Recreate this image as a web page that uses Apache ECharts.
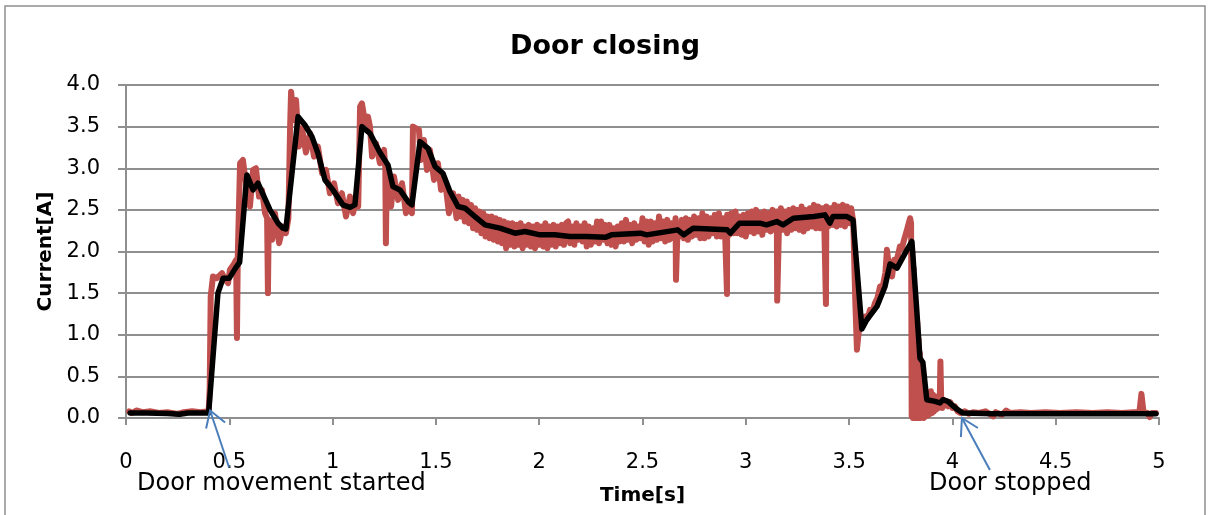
<!DOCTYPE html>
<html><head><meta charset="utf-8">
<script src="https://cdn.jsdelivr.net/npm/echarts@6/dist/echarts.min.js"></script>
<style>html,body{margin:0;padding:0;background:#fff}#c{width:1210px;height:515px}</style>
</head><body><div id="c"></div>
<script>
// ---- data ----
const chartTitle = 'Door closing';
const xName = 'Time[s]';
const yName = 'Current[A]';
const xTickValues = [0, 0.5, 1, 1.5, 2, 2.5, 3, 3.5, 4, 4.5, 5];
const yTickValues = [0.0, 0.5, 1.0, 1.5, 2.0, 2.5, 3.0, 3.5, 4.0];

// raw measured current [time s, current A] (red)
const rawSamples = [
[0.015,0.08],[0.03,0.06],[0.05,0.09],[0.08,0.07],[0.12,0.08],[0.16,0.06],[0.2,0.07],[0.25,0.05],[0.28,0.07],[0.32,0.08],[0.36,0.07],[0.40,0.08],
[0.405,0.35],[0.41,1.46],[0.421,1.70],[0.44,1.68],[0.465,1.74],[0.48,1.66],[0.494,1.62],[0.503,1.78],[0.52,1.84],[0.533,1.90],[0.537,0.96],[0.541,1.95],[0.552,3.06],[0.566,3.10],[0.576,2.90],[0.586,2.74],[0.600,2.54],[0.615,2.98],[0.629,3.00],[0.644,2.66],[0.658,2.74],[0.673,2.46],[0.683,2.40],[0.687,1.50],[0.691,2.38],[0.707,2.14],[0.721,2.46],[0.741,2.10],[0.760,2.30],[0.774,2.22],[0.786,2.40],[0.794,3.46],[0.799,3.92],[0.813,3.58],[0.823,3.82],[0.837,3.26],[0.852,3.48],[0.871,3.19],[0.891,3.42],[0.910,3.14],[0.929,3.26],[0.949,2.94],[0.968,2.98],[0.987,2.70],[1.007,2.82],[1.026,2.58],[1.045,2.70],[1.065,2.42],[1.084,2.66],[1.099,2.46],[1.113,2.62],[1.124,2.54],[1.133,3.74],[1.142,3.78],[1.157,3.54],[1.171,3.62],[1.181,3.50],[1.191,3.14],[1.210,3.30],[1.229,3.06],[1.249,3.22],[1.255,3.00],[1.258,2.10],[1.262,2.90],[1.283,2.54],[1.297,2.90],[1.317,2.62],[1.336,2.82],[1.355,2.46],[1.372,2.54],[1.384,2.46],[1.389,3.50],[1.404,3.48],[1.418,3.46],[1.428,3.10],[1.442,3.34],[1.457,2.98],[1.471,3.22],[1.491,2.86],[1.510,3.06],[1.525,2.74],[1.544,2.86],[1.563,2.46],[1.583,2.70],
[1.60,2.40],[1.61,2.66],[1.62,2.42],[1.63,2.62],[1.64,2.36],[1.65,2.60],[1.66,2.34],[1.67,2.56],[1.68,2.28],[1.69,2.52],
[1.70,2.26],[1.71,2.48],[1.72,2.22],[1.73,2.46],[1.74,2.18],[1.75,2.42],[1.76,2.16],[1.77,2.42],[1.78,2.14],[1.79,2.40],
[1.80,2.12],[1.81,2.38],[1.82,2.10],[1.83,2.36],[1.84,2.04],[1.85,2.34],[1.86,2.08],[1.87,2.34],[1.88,2.06],[1.89,2.32],
[1.90,2.08],[1.91,2.34],[1.92,2.04],[1.93,2.30],[1.94,2.08],[1.95,2.32],[1.96,2.06],[1.97,2.30],[1.98,2.04],[1.99,2.32],
[2.00,2.08],[2.01,2.30],[2.02,2.06],[2.03,2.34],[2.04,2.04],[2.05,2.30],[2.06,2.08],[2.07,2.32],[2.08,2.06],[2.09,2.30],
[2.10,2.10],[2.11,2.32],[2.12,2.08],[2.13,2.34],
[2.14,2.36],[2.15,2.10],[2.16,2.30],[2.17,2.08],[2.18,2.34],[2.19,2.14],[2.20,2.30],[2.21,2.12],[2.22,2.34],[2.23,2.06],
[2.24,2.30],[2.25,2.08],[2.26,2.28],[2.27,2.12],[2.28,2.36],[2.29,2.10],[2.30,2.36],[2.31,2.14],[2.32,2.32],[2.33,2.10],
[2.34,2.32],[2.35,2.08],[2.36,2.28],[2.37,2.06],[2.38,2.30],[2.39,2.12],[2.40,2.34],[2.41,2.12],[2.42,2.38],[2.43,2.14],
[2.44,2.32],[2.45,2.10],[2.46,2.34],[2.47,2.14],[2.48,2.30],[2.49,2.16],[2.50,2.40],[2.51,2.12],[2.52,2.36],[2.53,2.08],
[2.54,2.36],[2.55,2.12],[2.56,2.34],[2.57,2.14],[2.58,2.42],[2.59,2.16],[2.60,2.36],[2.61,2.12],[2.62,2.38],[2.63,2.14],
[2.64,2.34],[2.65,2.16],[2.66,2.40],[2.662,1.66],[2.67,2.30],[2.68,2.18],[2.69,2.38],[2.70,2.16],[2.71,2.40],[2.72,2.14],[2.73,2.38],
[2.74,2.18],[2.75,2.42],[2.76,2.20],[2.77,2.40],[2.78,2.16],[2.79,2.46],[2.80,2.16],[2.81,2.42],[2.82,2.18],[2.83,2.40],
[2.84,2.22],[2.85,2.44],[2.86,2.18],[2.87,2.46],[2.88,2.18],[2.89,2.40],[2.90,2.20],[2.909,1.49],[2.91,2.44],[2.92,2.20],[2.93,2.46],
[2.94,2.22],[2.95,2.48],[2.96,2.22],[2.97,2.42],[2.98,2.20],[2.99,2.44],[3.00,2.18],[3.01,2.46],[3.02,2.24],[3.03,2.48],
[3.04,2.22],[3.05,2.50],[3.06,2.24],[3.07,2.46],[3.08,2.20],[3.09,2.48],[3.10,2.26],[3.11,2.46],[3.12,2.24],[3.13,2.50],
[3.14,2.26],[3.15,2.48],[3.152,1.41],[3.16,2.24],[3.17,2.52],[3.18,2.26],[3.19,2.48],[3.20,2.22],[3.21,2.50],[3.22,2.26],[3.23,2.52],[3.24,2.28],[3.25,2.50],
[3.26,2.26],[3.27,2.54],[3.28,2.24],[3.29,2.50],[3.30,2.28],[3.31,2.52],[3.32,2.30],[3.33,2.56],[3.34,2.28],[3.35,2.54],
[3.36,2.28],[3.37,2.52],[3.38,2.30],[3.388,1.37],[3.39,2.54],[3.40,2.30],[3.41,2.52],[3.42,2.32],[3.43,2.56],[3.44,2.30],[3.45,2.54],
[3.46,2.32],[3.47,2.56],[3.48,2.30],[3.49,2.54],[3.50,2.34],[3.51,2.52],[3.52,2.36],
[3.530,1.40],[3.538,0.82],[3.545,1.00],[3.553,1.14],[3.565,1.10],[3.577,1.22],[3.590,1.20],[3.601,1.30],[3.613,1.28],[3.625,1.38],[3.637,1.44],[3.650,1.58],[3.660,1.55],[3.669,1.66],[3.676,1.75],[3.683,2.02],[3.693,1.82],[3.708,1.70],[3.718,1.90],[3.727,1.87],[3.737,1.96],[3.746,2.06],[3.756,2.04],[3.766,2.14],[3.780,2.26],[3.795,2.40],[3.800,2.34],
[3.803,0.02],[3.806,2.00],[3.809,0.00],[3.812,1.80],[3.815,0.02],[3.818,1.55],[3.821,0.00],[3.824,1.35],[3.827,0.02],[3.830,1.15],[3.833,0.00],[3.836,0.95],[3.839,0.02],[3.842,0.78],[3.845,0.00],[3.849,0.62],[3.853,0.02],[3.857,0.45],[3.861,0.00],[3.866,0.34],[3.871,0.02],[3.876,0.30],[3.881,0.03],[3.886,0.28],[3.891,0.05],[3.896,0.32],[3.901,0.06],[3.906,0.28],[3.911,0.08],[3.916,0.26],[3.921,0.10],[3.927,0.25],[3.933,0.12],[3.939,0.22],[3.942,0.68],[3.946,0.20],[3.951,0.12],[3.957,0.22],[3.963,0.15],[3.970,0.20],[3.980,0.14],[3.990,0.19],[4.000,0.12],[4.012,0.14],[4.025,0.08],[4.04,0.06],[4.06,0.08],[4.08,0.05],[4.10,0.07],[4.13,0.06],[4.16,0.08],[4.197,0.02],[4.21,0.07],[4.24,0.04],[4.26,0.09],[4.28,0.06],[4.33,0.07],[4.38,0.06],[4.45,0.07],[4.52,0.06],[4.60,0.07],[4.68,0.06],[4.75,0.07],[4.82,0.06],[4.88,0.07],[4.905,0.07],[4.915,0.29],[4.925,0.07],[4.945,0.06],[4.955,0.01],[4.965,0.06],[4.985,0.06]
];

// smoothed current [time s, current A] (black)
const avgSamples = [
[0.02,0.06],[0.10,0.06],[0.20,0.055],[0.26,0.045],[0.30,0.06],[0.40,0.06],[0.445,1.50],[0.47,1.68],[0.50,1.68],[0.53,1.80],[0.55,1.87],[0.585,2.92],[0.615,2.74],[0.639,2.82],[0.697,2.50],[0.736,2.34],[0.760,2.28],[0.774,2.27],[0.833,3.62],[0.866,3.52],[0.900,3.38],[0.929,3.18],[0.963,2.86],[1.002,2.74],[1.050,2.56],[1.084,2.53],[1.108,2.56],[1.142,3.50],[1.181,3.42],[1.229,3.19],[1.268,3.04],[1.292,2.78],[1.326,2.74],[1.365,2.60],[1.384,2.56],[1.423,3.32],[1.462,3.24],[1.496,3.02],[1.534,2.94],[1.568,2.72],[1.607,2.54],[1.641,2.52],[1.689,2.42],[1.738,2.32],[1.810,2.28],[1.883,2.22],[1.931,2.24],[2.004,2.20],[2.076,2.20],[2.149,2.18],[2.23,2.18],[2.32,2.17],[2.35,2.20],[2.49,2.22],[2.52,2.20],[2.67,2.26],[2.70,2.20],[2.745,2.28],[2.91,2.26],[2.925,2.22],[2.97,2.34],[3.068,2.34],[3.10,2.32],[3.15,2.36],[3.18,2.32],[3.23,2.40],[3.33,2.42],[3.383,2.44],[3.407,2.34],[3.422,2.42],[3.49,2.42],[3.519,2.38],[3.562,1.07],[3.586,1.18],[3.635,1.34],[3.674,1.58],[3.698,1.85],[3.732,1.80],[3.78,2.02],[3.804,2.12],[3.824,1.42],[3.843,0.72],[3.857,0.67],[3.876,0.22],[3.916,0.20],[3.94,0.18],[3.954,0.22],[3.978,0.20],[4.02,0.11],[4.05,0.06],[4.2,0.05],[4.4,0.05],[4.6,0.05],[4.8,0.05],[4.985,0.05]
];

const annotations = [
  {text: 'Door movement started', at: [0.407, 0.09]},
  {text: 'Door stopped', at: [4.046, 0.0]}
];

// ---- chart ----
const FONT = 'DejaVu Sans';
const GRID_COLOR = '#8f8f8f';
const chart = echarts.init(document.getElementById('c'), null, {renderer: 'canvas'});
chart.setOption({
  animation: false,
  backgroundColor: '#fff',
  title: {
    text: chartTitle, left: 'center', top: 28,
    textStyle: {fontFamily: FONT, fontSize: 27, fontWeight: 'bold', color: '#000'}
  },
  grid: {left: 126, right: 51, top: 85, bottom: 97},
  xAxis: {
    type: 'value', min: xTickValues[0], max: xTickValues[xTickValues.length - 1], interval: 0.5,
    name: xName, nameLocation: 'middle', nameGap: 68,
    nameTextStyle: {fontFamily: FONT, fontSize: 20, fontWeight: 'bold', color: '#000'},
    axisLine: {show: true, lineStyle: {color: GRID_COLOR, width: 2}},
    axisTick: {show: true, length: 7, lineStyle: {color: GRID_COLOR, width: 2}},
    splitLine: {show: false},
    axisLabel: {fontFamily: FONT, fontSize: 21, color: '#000', margin: 34}
  },
  yAxis: {
    type: 'value', min: yTickValues[0], max: yTickValues[yTickValues.length - 1], interval: 0.5,
    name: yName, nameLocation: 'middle', nameGap: 66, nameRotate: 90,
    nameTextStyle: {fontFamily: FONT, fontSize: 20, fontWeight: 'bold', color: '#000'},
    axisLine: {show: true, lineStyle: {color: GRID_COLOR, width: 2}},
    axisTick: {show: true, length: 8, lineStyle: {color: GRID_COLOR, width: 2}},
    splitLine: {show: true, lineStyle: {color: GRID_COLOR, width: 2}},
    axisLabel: {fontFamily: FONT, fontSize: 21, color: '#000', margin: 26,
      formatter: v => v.toFixed(1)}
  },
  series: [
    {type: 'line', name: 'raw', data: rawSamples, showSymbol: false, symbol: 'none',
     lineStyle: {color: '#c0504d', width: 6, join: 'round', cap: 'round'}, z: 2},
    {type: 'line', name: 'avg', data: avgSamples, showSymbol: false, symbol: 'none',
     lineStyle: {color: '#000', width: 5.5, join: 'round', cap: 'round'}, z: 3}
  ]
});

// annotations: arrows tied to data positions, labels below the axis
const ARROW = '#4a7ebb';
const tip1 = chart.convertToPixel({gridIndex: 0}, annotations[0].at);
const tip2 = chart.convertToPixel({gridIndex: 0}, annotations[1].at);
function arrow(tip, tail, w1, w2) {
  return [
    {type: 'line', shape: {x1: tip[0] + tail[0], y1: tip[1] + tail[1], x2: tip[0], y2: tip[1]},
     style: {stroke: ARROW, lineWidth: 2}, z: 10},
    {type: 'polyline', shape: {points: [[tip[0] + w1[0], tip[1] + w1[1]], [tip[0], tip[1]], [tip[0] + w2[0], tip[1] + w2[1]]]},
     style: {stroke: ARROW, lineWidth: 2, fill: null}, z: 10}
  ];
}
chart.setOption({
  graphic: [
    {type: 'rect', shape: {x: 5, y: 6, width: 1200, height: 540},
     style: {fill: null, stroke: '#8f8f8f', lineWidth: 1.5}, silent: true, z: -1},
    ...arrow(tip1, [19, 57], [-4, 18], [15, 12]),
    ...arrow(tip2, [28, 52], [-1, 19], [16, 10]),
    {type: 'text', left: 137, top: 472, z: 10,
     style: {text: annotations[0].text, fontFamily: FONT, fontSize: 24, fill: '#000'}},
    {type: 'text', left: 929, top: 472, z: 10,
     style: {text: annotations[1].text, fontFamily: FONT, fontSize: 24, fill: '#000'}}
  ]
});
</script>
</body></html>
